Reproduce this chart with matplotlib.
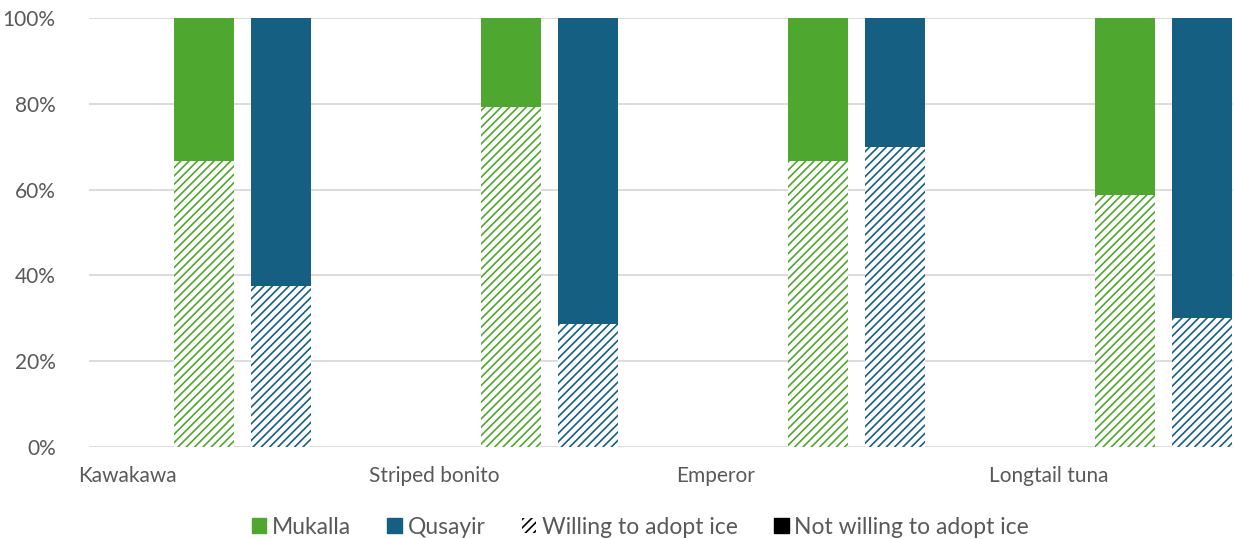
import numpy as np
import matplotlib.pyplot as plt
from matplotlib.patches import Patch

# share of respondents willing to adopt ice, by species and landing site
species = ["Kawakawa", "Striped bonito", "Emperor", "Longtail tuna"]
mukalla_willing = [0.667, 0.792, 0.667, 0.588]
qusayir_willing = [0.375, 0.286, 0.70, 0.30]

green = "#4ea72e"
blue = "#156082"
grey = "#595959"

plt.rcParams['font.family'] = ['Lato', 'DejaVu Sans']
plt.rcParams['hatch.linewidth'] = 1.2

fig = plt.figure(figsize=(12.34, 5.39), dpi=100)
ax = fig.add_axes([89/1234, 92/539, 1144/1234, 429/539])

x = np.arange(len(species))
w = 0.195
muk_w = np.array(mukalla_willing)
qus_w = np.array(qusayir_willing)

for pos, willing, col in [(x + 0.375, muk_w, green), (x + 0.625, qus_w, blue)]:
    plt.rcParams['hatch.color'] = col
    ax.bar(pos, willing, w, color="white", hatch="////", edgecolor=col, linewidth=0, zorder=2)
    ax.bar(pos, 1 - willing, w, bottom=willing, color=col, linewidth=0, zorder=2)

ax.set_xlim(0, 3.726)
ax.set_ylim(0, 1)
ticks = np.arange(0, 1.01, 0.2)
ax.set_yticks(ticks)
ax.set_yticklabels([f"{int(round(v*100))}%" for v in ticks])
ax.yaxis.grid(True, color="#d9d9d9", linewidth=1.3, zorder=0)
ax.set_axisbelow(True)
for s in ax.spines.values():
    s.set_visible(False)
ax.tick_params(axis='y', length=0, pad=24, labelsize=15, labelcolor=grey)
ax.set_xticks([])

# category labels sit near the left edge of each group
label_shift = [-0.036, -0.088, -0.088, -0.07]
for i, name in enumerate(species):
    ax.text(i + label_shift[i], -0.045, name, ha="left", va="top", fontsize=15, color=grey,
            transform=ax.get_xaxis_transform())

handles = [
    Patch(facecolor=green, edgecolor=green, label="Mukalla"),
    Patch(facecolor=blue, edgecolor=blue, label="Qusayir"),
    Patch(facecolor="white", edgecolor="black", hatch="////", linewidth=0, label="Willing to adopt ice"),
    Patch(facecolor="black", edgecolor="black", label="Not willing to adopt ice"),
]
plt.rcParams['hatch.color'] = "black"
fig.legend(handles=handles, loc="center", bbox_to_anchor=(0.519, 12/539), ncol=4, frameon=False,
           fontsize=16.5, labelcolor=grey, handlelength=0.62, handleheight=0.62,
           handletextpad=0.25, columnspacing=1.6)

fig.savefig("out.png", dpi=100)
